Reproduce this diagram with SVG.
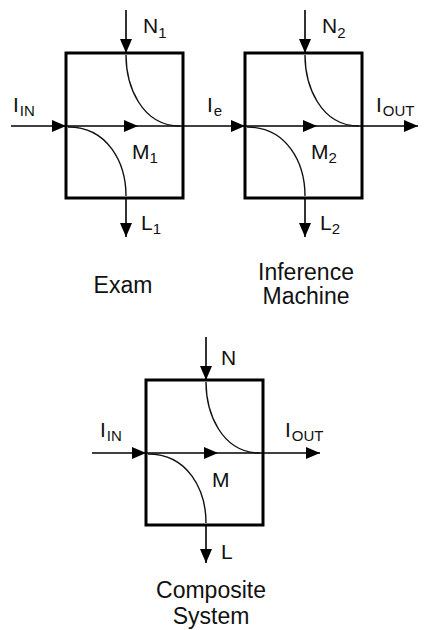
<svg xmlns="http://www.w3.org/2000/svg" width="425" height="630" viewBox="0 0 425 630">
<style>
text{font-family:"Liberation Sans",Arial,sans-serif;fill:#111}
.lbl{font-size:21px}
.sub{font-size:15px}
.cap{font-size:23px}
.box{fill:none;stroke:#000;stroke-width:3}
.ln{fill:none;stroke:#000;stroke-width:1.6}
.crv{fill:none;stroke:#111;stroke-width:1.4}
.con{fill:none;stroke:#000;stroke-width:1.6;marker-end:url(#ah)}
.head{fill:#000}
</style>
<defs>
<marker id="ah" markerUnits="userSpaceOnUse" markerWidth="15" markerHeight="13" refX="14" refY="6" orient="auto">
<path d="M0,0 L14,6 L0,12 z" fill="#000"/>
</marker>
<g id="core">
<line class="ln" x1="0" y1="73" x2="117" y2="73"/>
<path class="head" d="M58,67 L72,73 L58,79 z"/>
<path class="crv" d="M60,2 C60,32 75,73 114,73"/>
<path class="crv" d="M2,74 C42,74 60,110 60,143"/>
<rect class="box" x="0" y="0" width="117" height="145"/>
</g>
</defs>

<g id="connectors">
<line class="con" x1="11" y1="126" x2="66" y2="126"/>
<line class="con" x1="126" y1="10" x2="126" y2="53"/>
<line class="con" x1="126" y1="198" x2="126" y2="237"/>
<line class="con" x1="183" y1="126" x2="245" y2="126"/>
<line class="con" x1="305" y1="10" x2="305" y2="53"/>
<line class="con" x1="305" y1="198" x2="305" y2="237"/>
<line class="con" x1="362" y1="126" x2="418" y2="126"/>
<line class="con" x1="92" y1="453" x2="146" y2="453"/>
<line class="con" x1="206" y1="337" x2="206" y2="380"/>
<line class="con" x1="206" y1="525" x2="206" y2="563"/>
<line class="con" x1="263" y1="453" x2="320" y2="453"/>
</g>

<g id="exam">
<use href="#core" x="66" y="53"/>
<text class="lbl" x="132" y="159">M<tspan class="sub" dy="4">1</tspan></text>
<text class="cap" x="123" y="293" text-anchor="middle">Exam</text>
</g>
<g id="inference-machine">
<use href="#core" x="245" y="53"/>
<text class="lbl" x="311" y="159">M<tspan class="sub" dy="4">2</tspan></text>
<text class="cap" x="306" y="280" text-anchor="middle">Inference</text>
<text class="cap" x="306" y="304" text-anchor="middle">Machine</text>
</g>
<g id="composite-system">
<use href="#core" x="146" y="380"/>
<text class="lbl" x="212" y="487">M</text>
<text class="cap" x="211" y="598" text-anchor="middle">Composite</text>
<text class="cap" x="211" y="624" text-anchor="middle">System</text>
</g>

<g id="labels">
<text class="lbl" x="13" y="112">I<tspan class="sub" dx="1" dy="4">IN</tspan></text>
<text class="lbl" x="143" y="33">N<tspan class="sub" dy="5">1</tspan></text>
<text class="lbl" x="141" y="230">L<tspan class="sub" dy="4">1</tspan></text>
<text class="lbl" x="207" y="112">I<tspan class="sub" dx="1" dy="4">e</tspan></text>
<text class="lbl" x="322" y="33">N<tspan class="sub" dy="5">2</tspan></text>
<text class="lbl" x="320" y="230">L<tspan class="sub" dy="4">2</tspan></text>
<text class="lbl" x="376" y="112">I<tspan class="sub" dx="1" dy="4">OUT</tspan></text>
<text class="lbl" x="100" y="437">I<tspan class="sub" dx="1" dy="4">IN</tspan></text>
<text class="lbl" x="221" y="365">N</text>
<text class="lbl" x="221" y="559">L</text>
<text class="lbl" x="285" y="437">I<tspan class="sub" dx="1" dy="4">OUT</tspan></text>
</g>
</svg>
